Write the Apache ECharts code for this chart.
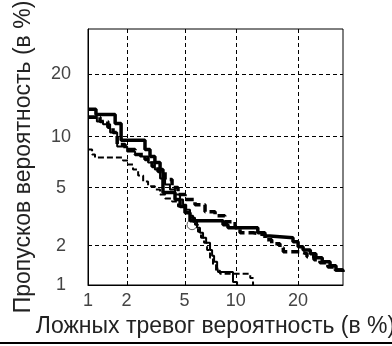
<!DOCTYPE html>
<html>
<head>
<meta charset="utf-8">
<script src="https://cdn.jsdelivr.net/npm/echarts@6/dist/echarts.min.js"></script>
<style>
  html, body { margin: 0; padding: 0; background: #fff; }
  #chart { width: 392px; height: 346px; }
</style>
</head>
<body>
<div id="chart"></div>
<script>
// DET curves, both axes in % on a normal-deviate (probit) scale
const tickValues = [1, 2, 5, 10, 20]
const tickLabels = ["1", "2", "5", "10", "20"]
const gridValues = [2, 5, 10, 20]
const axisMinPct = 1
const axisMaxPct = 30

// thick solid
const thickSolidFA = [1.0, 1.16, 1.64, 1.82, 2.72, 2.95, 3.19, 3.46, 3.62, 4.35, 4.69, 5.04, 5.42, 8.5, 9.06, 13.0, 14.1, 14.9, 19.0, 20.0, 21.0, 22.5, 23.7, 25.1, 26.9, 28.3, 30]
const thickSolidMiss = [13.8, 13.0, 11.7, 9.55, 8.5, 7.76, 7.16, 6.51, 4.69, 4.23, 3.8, 3.46, 3.05, 2.86, 2.72, 2.51, 2.38, 2.31, 2.16, 1.98, 1.88, 1.76, 1.64, 1.53, 1.42, 1.32, 1.27]

// thick dashed
const thickDashFA = [1.0, 1.25, 1.44, 1.58, 1.7, 1.95, 2.31, 2.72, 3.05, 3.35, 3.74, 4.16, 4.55, 5.04, 5.82, 6.69, 7.66, 8.7, 9.91, 10.53, 12.3, 14.1, 15.2, 16.6, 17.2, 20.4, 21.8, 23.3, 24.6, 26.4, 28.1, 30]
const thickDashMiss = [12.6, 12.0, 11.2, 10.5, 9.06, 8.5, 7.97, 7.45, 6.79, 6.33, 5.66, 5.05, 4.55, 4.23, 3.91, 3.51, 3.3, 3.0, 2.72, 2.51, 2.43, 2.23, 2.09, 1.95, 1.82, 1.76, 1.67, 1.58, 1.5, 1.39, 1.32, 1.3]

// thin solid
const thinSolidFA = [1.0, 1.18, 1.32, 1.5, 1.7, 2.02, 2.31, 2.51, 2.86, 3.19, 3.46, 3.74, 4.03, 4.35, 4.69, 4.9, 5.13, 5.42, 5.66, 5.99, 6.24, 6.51, 6.79, 7.16, 7.36, 7.56, 7.87, 7.97, 9.65, 10.15]
const thinSolidMiss = [12.7, 12.0, 11.6, 10.5, 8.84, 8.28, 7.97, 7.76, 7.16, 6.51, 5.74, 5.27, 4.9, 4.55, 4.23, 3.91, 3.62, 3.3, 3.0, 2.72, 2.51, 2.31, 2.12, 1.88, 1.7, 1.53, 1.39, 1.27, 1.06, 1.0]

// thin dashed
const thinDashFA = [1.0, 1.08, 1.14, 1.88, 2.05, 2.23, 2.43, 2.64, 2.86, 3.19, 3.46, 3.74, 4.16, 4.55, 5.04, 5.42, 5.82, 6.07, 6.33, 6.6, 6.88, 7.16, 7.45, 7.76, 8.18, 11.9, 12.3]
const thinDashMiss = [8.5, 7.97, 7.65, 7.36, 6.97, 6.51, 5.99, 5.5, 5.14, 4.9, 4.55, 4.29, 4.1, 3.8, 3.46, 3.19, 2.86, 2.55, 2.31, 2.12, 1.88, 1.64, 1.44, 1.3, 1.23, 1.14, 1.0]

// operating point (circle)
const pointFA = [5.58]
const pointMiss = [2.86]

// inverse normal CDF (Acklam)
function probit(p) {
  const a = [-39.69683028665376, 220.9460984245205, -275.9285104469687, 138.357751867269, -30.66479806614716, 2.506628277459239]
  const b = [-54.47609879822406, 161.5858368580409, -155.6989798598866, 66.80131188771972, -13.28068155288572]
  const c = [-0.007784894002430293, -0.3223964580411365, -2.400758277161838, -2.549732539343734, 4.374664141464968, 2.938163982698783]
  const d = [0.007784695709041462, 0.3224671290700398, 2.445134137142996, 3.754408661907416]
  const pl = 0.02425
  if (p < pl) {
    const q = Math.sqrt(-2 * Math.log(p))
    return (((((c[0] * q + c[1]) * q + c[2]) * q + c[3]) * q + c[4]) * q + c[5]) / ((((d[0] * q + d[1]) * q + d[2]) * q + d[3]) * q + 1)
  }
  if (p <= 1 - pl) {
    const q = p - 0.5
    const r = q * q
    return (((((a[0] * r + a[1]) * r + a[2]) * r + a[3]) * r + a[4]) * r + a[5]) * q / (((((b[0] * r + b[1]) * r + b[2]) * r + b[3]) * r + b[4]) * r + 1)
  }
  const q = Math.sqrt(-2 * Math.log(1 - p))
  return -(((((c[0] * q + c[1]) * q + c[2]) * q + c[3]) * q + c[4]) * q + c[5]) / ((((d[0] * q + d[1]) * q + d[2]) * q + d[3]) * q + 1)
}

const toPct = (v) => probit(v / 100)
const pairs = (xs, ys) => xs.map((x, i) => [toPct(x), toPct(ys[i])])

const tickPos = tickValues.map(toPct)
const labelFor = (val) => {
  let best = 0
  tickPos.forEach((t, i) => { if (Math.abs(t - val) < Math.abs(tickPos[best] - val)) best = i })
  return tickLabels[best]
}

const gridStyle = { color: "#000", width: 1, type: [4, 3] }

const chart = echarts.init(document.getElementById("chart"), null, { renderer: "canvas" })

const baseAxis = {
  type: "value",
  min: toPct(axisMinPct),
  max: toPct(axisMaxPct),
  axisLine: { show: true, lineStyle: { color: "#000", width: 1 } },
  axisTick: { show: false },
  splitLine: { show: false },
  nameLocation: "middle",
  nameTextStyle: { fontFamily: "Liberation Sans", fontSize: 23, color: "#222" },
}

const tickLabelStyle = {
  customValues: tickPos,
  formatter: labelFor,
  fontFamily: "Liberation Sans",
  fontSize: 18,
  color: "#444",
}

const option = {
  animation: false,
  backgroundColor: "#fff",
  grid: {
    left: 88,
    right: 49,
    top: 29,
    bottom: 61,
    show: true,
    borderColor: "#000",
    borderWidth: 1,
    containLabel: false,
    outerBoundsMode: "none",
  },
  xAxis: {
    ...baseAxis,
    name: "Ложных тревог вероятность (в %)",
    nameGap: 25,
    axisLabel: { ...tickLabelStyle, margin: 7 },
  },
  yAxis: {
    ...baseAxis,
    name: "Пропусков вероятность (в %)",
    nameGap: 53,
    nameRotate: 90,
    axisLabel: { ...tickLabelStyle, margin: 27, align: "center" },
  },
  graphic: [
    {
      type: "line",
      shape: { x1: 0, y1: 343, x2: 392, y2: 343 },
      style: { stroke: "#000", lineWidth: 2 },
    },
  ],
  series: [
    {
      name: "grid",
      type: "line",
      data: [],
      silent: true,
      markLine: {
        silent: true,
        symbol: "none",
        label: { show: false },
        lineStyle: gridStyle,
        data: [
          ...gridValues.map((v) => ({ xAxis: toPct(v) })),
          ...gridValues.map((v) => ({ yAxis: toPct(v) })),
        ],
      },
    },
    {
      name: "thin dashed",
      type: "line",
      step: "end",
      showSymbol: false,
      data: pairs(thinDashFA, thinDashMiss),
      lineStyle: { color: "#000", width: 2, type: [6, 3] },
    },
    {
      name: "thin solid",
      type: "line",
      step: "end",
      showSymbol: false,
      data: pairs(thinSolidFA, thinSolidMiss),
      lineStyle: { color: "#000", width: 2 },
    },
    {
      name: "thick dashed",
      type: "line",
      step: "end",
      showSymbol: false,
      data: pairs(thickDashFA, thickDashMiss),
      lineStyle: { color: "#000", width: 3.5, type: [8, 4] },
    },
    {
      name: "thick solid",
      type: "line",
      step: "end",
      showSymbol: false,
      data: pairs(thickSolidFA, thickSolidMiss),
      lineStyle: { color: "#000", width: 3.5 },
    },
    {
      name: "point",
      type: "scatter",
      symbol: "circle",
      symbolSize: 10,
      data: pairs(pointFA, pointMiss),
      itemStyle: { color: "rgba(255,255,255,0)", borderColor: "#333", borderWidth: 1 },
    },
  ],
}

chart.setOption(option)
window.addEventListener("resize", () => chart.resize())
</script>
</body>
</html>
